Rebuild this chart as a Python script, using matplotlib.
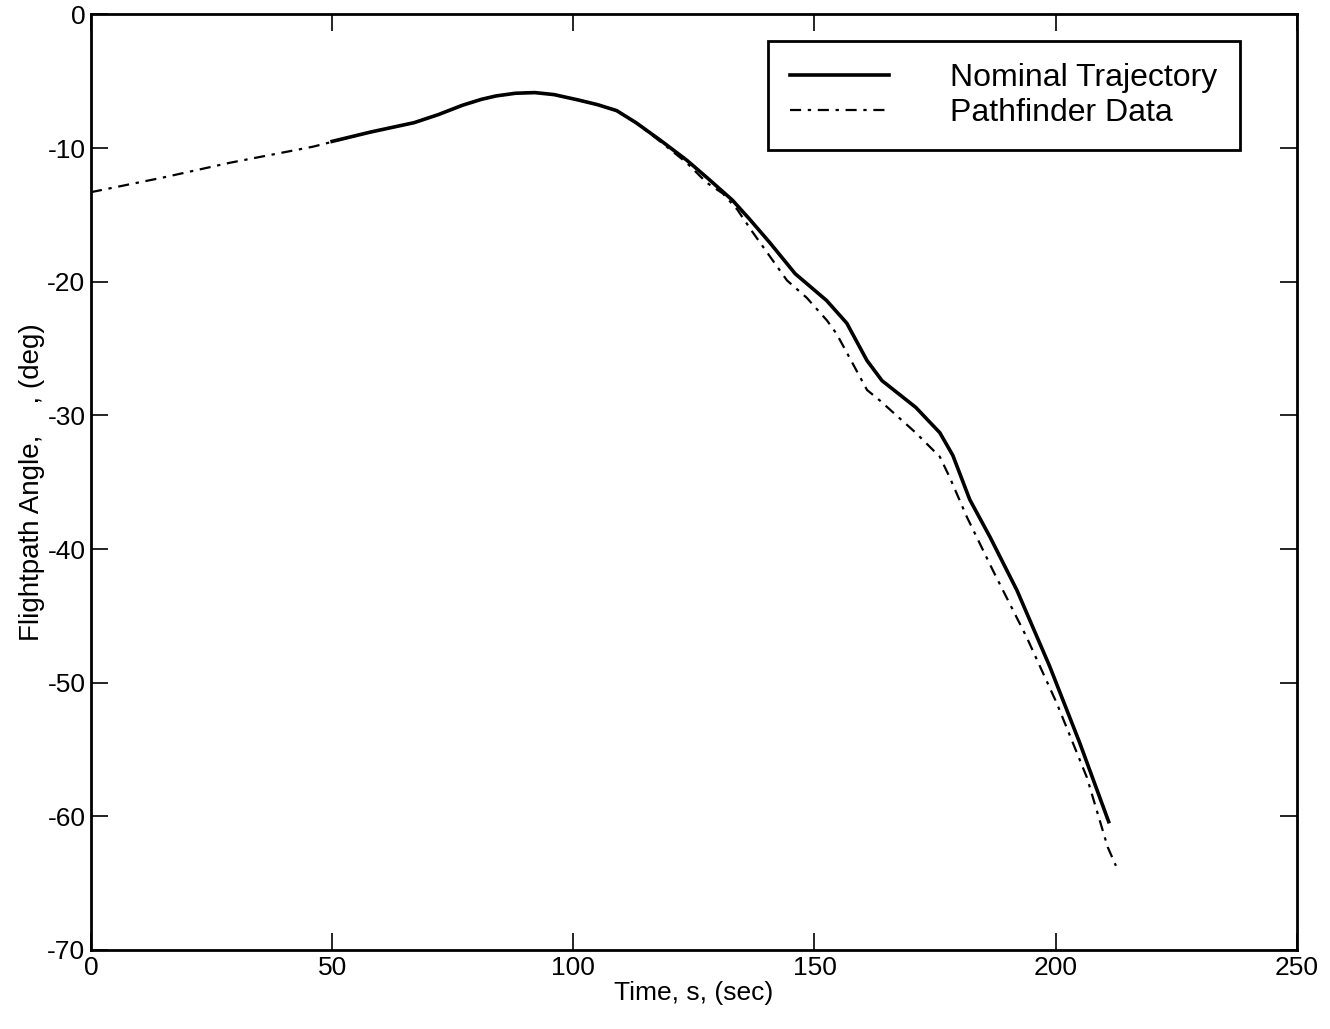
import matplotlib.pyplot as plt

plt.rcParams['font.family'] = ['Liberation Sans', 'DejaVu Sans']
plt.rcParams['axes.unicode_minus'] = False

# Nominal trajectory (time s, flightpath angle deg)
nom_t = [50, 58, 67, 72, 77, 81, 84, 88, 92, 96, 101, 105, 109, 113, 118, 123.5, 128,
         133, 136.5, 140.8, 146, 152.5, 156.7, 160.9, 164, 171, 176, 178.7, 182.2,
         186.4, 192, 198.8, 205, 211]
nom_v = [-9.5, -8.8, -8.1, -7.5, -6.8, -6.35, -6.1, -5.9, -5.85, -6.0, -6.4, -6.75, -7.2,
         -8.1, -9.4, -10.9, -12.3, -13.9, -15.3, -17.1, -19.4, -21.4, -23.1, -25.9,
         -27.4, -29.4, -31.3, -33.0, -36.3, -39.1, -43.1, -48.8, -54.5, -60.4]

# Pathfinder data
pf_t = [0, 15, 28.8, 46, 58, 67, 72, 77, 81, 84, 88, 92, 96, 101, 105, 109, 113, 118,
        123.5, 127.7, 131, 134, 137, 144.3, 148.4, 152.6, 154.6, 160.9, 163.6, 171, 176,
        178, 181.6, 187, 194, 200.2, 206.5, 210.8, 212.5]
pf_v = [-13.3, -12.2, -11.1, -9.9, -8.8, -8.1, -7.5, -6.8, -6.35, -6.1, -5.9, -5.85,
        -6.0, -6.4, -6.75, -7.2, -8.1, -9.5, -11.1, -12.6, -13.4, -14.6, -16.2, -19.9,
        -21.2, -22.9, -23.9, -28.1, -28.9, -31.3, -33.1, -34.6, -37.6, -41.6, -46.6,
        -51.5, -57.1, -62.3, -63.7]

fig = plt.figure(figsize=(13.3, 10.29), dpi=100)
ax = fig.add_axes([0.0684, 0.0768, 0.9066, 0.9092])

ax.plot(nom_t, nom_v, color='black', lw=2.6, label='Nominal Trajectory')
ax.plot(pf_t, pf_v, color='black', lw=1.6, dashes=(5, 3, 1.5, 3), label='Pathfinder Data')

ax.set_xlim(0, 250)
ax.set_ylim(-70, 0)
ax.set_xticks([0, 50, 100, 150, 200, 250])
ax.set_yticks([0, -10, -20, -30, -40, -50, -60, -70])
ax.tick_params(direction='in', length=12, width=1.2, top=True, right=True,
               labelsize=19, pad=4)
for s in ax.spines.values():
    s.set_linewidth(2)

ax.set_xlabel('Time, s, (sec)', fontsize=19, labelpad=1)
ax.set_ylabel('Flightpath Angle,    , (deg)', fontsize=20, labelpad=2)

leg = ax.legend(loc='upper right', fontsize=23, handlelength=3.1, handletextpad=1.9,
                borderpad=0.7, labelspacing=0.15, fancybox=False, framealpha=1,
                edgecolor='black', bbox_to_anchor=(0.966, 0.989))
leg.get_frame().set_linewidth(2)

fig.savefig('out.png', dpi=100)
